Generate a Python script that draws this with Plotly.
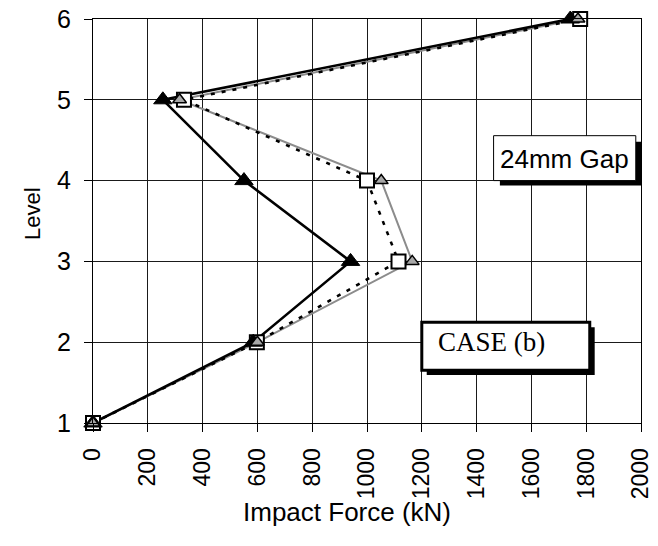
import plotly.graph_objects as go

# Storey levels and peak impact force (kN) for the three runs
levels = [1, 2, 3, 4, 5, 6]
force_solid = [0, 585, 940, 551, 255, 1742]      # solid black line, filled triangles
force_dashed = [0, 598, 1115, 1000, 332, 1778]   # dashed black line, open squares
force_grey = [0, 600, 1165, 1052, 316, 1770]     # grey line, grey triangles

x_ticks = [0, 200, 400, 600, 800, 1000, 1200, 1400, 1600, 1800, 2000]
y_ticks = [1, 2, 3, 4, 5, 6]

SANS = "Liberation Sans, Arial, sans-serif"
SERIF = "Liberation Serif, Times New Roman, serif"

fig = go.Figure()

# lines first, so every marker sits above every line
fig.add_trace(go.Scatter(x=force_grey, y=levels, mode="lines",
                         line=dict(color="#8c8c8c", width=2), hoverinfo="skip"))
fig.add_trace(go.Scatter(x=force_dashed, y=levels, mode="lines",
                         line=dict(color="black", width=2.6, dash="4px,7px"), hoverinfo="skip"))
fig.add_trace(go.Scatter(x=force_solid, y=levels, mode="lines",
                         line=dict(color="black", width=2.6), hoverinfo="skip"))

fig.add_trace(go.Scatter(x=force_dashed, y=levels, mode="markers", cliponaxis=False,
                         marker=dict(symbol="square", size=14, color="white",
                                     line=dict(color="black", width=2))))
fig.add_trace(go.Scatter(x=force_solid, y=levels, mode="markers", cliponaxis=False,
                         marker=dict(symbol="triangle-up", size=16, color="black",
                                     line=dict(color="black", width=1))))
fig.add_trace(go.Scatter(x=force_grey, y=levels, mode="markers", cliponaxis=False,
                         marker=dict(symbol="triangle-up", size=12, color="#a8a8a8",
                                     line=dict(color="black", width=1.5))))

# label boxes with drop shadows
shapes = [
    dict(type="rect", xref="x", yref="y", x0=1485, x1=2000, y0=3.94, y1=4.48,
         fillcolor="black", line=dict(width=0), layer="above"),
    dict(type="rect", xref="x", yref="y", x0=1462, x1=1981, y0=4.0, y1=4.556,
         fillcolor="white", line=dict(color="black", width=1), layer="above"),
    dict(type="rect", xref="x", yref="y", x0=1218, x1=1831, y0=1.593, y1=2.185,
         fillcolor="black", line=dict(width=0), layer="above"),
    dict(type="rect", xref="x", yref="y", x0=1200, x1=1813, y0=1.654, y1=2.247,
         fillcolor="white", line=dict(color="black", width=3), layer="above"),
]

annotations = [
    dict(x=1721, y=4.27, xref="x", yref="y", text="24mm Gap", showarrow=False,
         xanchor="center", yanchor="middle", font=dict(family=SANS, size=26, color="black")),
    dict(x=1453, y=2.0, xref="x", yref="y", text="CASE (b)", showarrow=False,
         xanchor="center", yanchor="middle", font=dict(family=SERIF, size=27, color="black")),
    dict(x=347, y=512, xref="paper", yref="paper", text="Impact Force (kN)", showarrow=False,
         xanchor="center", yanchor="middle", font=dict(family=SANS, size=26, color="black")),
    dict(x=32, y=214, xref="paper", yref="paper", text="Level", showarrow=False, textangle=-90,
         xanchor="center", yanchor="middle", font=dict(family=SANS, size=22, color="black")),
]

# axis-title annotations are placed in pixels; convert to paper fractions
L, R, T, B, W, H = 93, 17, 19, 123, 658, 546
pw, ph = W - L - R, H - T - B
for a in annotations[2:]:
    a["x"] = (a["x"] - L) / pw
    a["y"] = (H - B - a["y"]) / ph

fig.update_layout(
    width=W, height=H,
    margin=dict(l=L, r=R, t=T, b=B, autoexpand=False),
    paper_bgcolor="white", plot_bgcolor="white",
    showlegend=False,
    shapes=shapes, annotations=annotations,
    xaxis=dict(range=[0, 2000], tickvals=x_ticks, ticktext=[str(v) for v in x_ticks],
               tickangle=-90, ticks="outside", ticklen=8, tickcolor="black",
               ticklabelstandoff=7, automargin=False,
               showgrid=True, gridcolor="#1a1a1a", gridwidth=1,
               showline=True, linecolor="black", linewidth=1, mirror=True,
               zeroline=False, tickfont=dict(family=SANS, size=23, color="black")),
    yaxis=dict(range=[1, 6], tickvals=y_ticks, ticktext=[str(v) for v in y_ticks],
               ticks="outside", ticklen=8, tickcolor="black",
               ticklabelstandoff=8, automargin=False,
               showgrid=True, gridcolor="#1a1a1a", gridwidth=1,
               showline=True, linecolor="black", linewidth=1, mirror=True,
               zeroline=False, tickfont=dict(family=SANS, size=25, color="black")),
)

fig.write_html("out.html")
